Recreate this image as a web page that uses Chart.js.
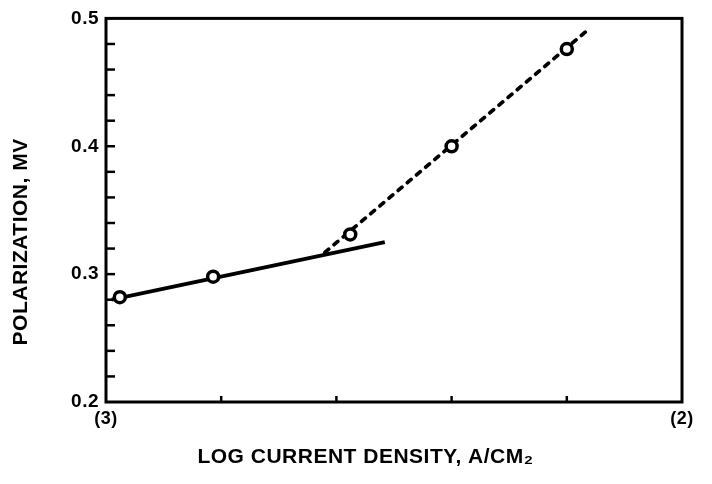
<!DOCTYPE html>
<html>
<head>
<meta charset="utf-8">
<script src="https://cdn.jsdelivr.net/npm/chart.js@4.4.1/dist/chart.umd.min.js"></script>
<style>
  html, body { margin: 0; padding: 0; background: #fff; }
  #wrap { width: 712px; height: 484px; }
</style>
</head>
<body>
<div id="wrap"><canvas id="c" width="712" height="484"></canvas></div>
<script>
// ---- data ----
const measuredX = [0.12, 0.93, 2.12, 3.00, 4.00];
const measuredY = [0.282, 0.298, 0.331, 0.400, 0.476];

const lowFitX = [0.05, 2.42];
const lowFitY = [0.280, 0.325];

const highFitX = [1.90, 4.17];
const highFitY = [0.317, 0.490];

const xTickLabels = { 0: '(3)', 5: '(2)' };
const yTickLabels = ['0.2', '0.3', '0.4', '0.5'];

const xTitle = 'LOG CURRENT DENSITY, A/CM\u2082';
const yTitle = 'POLARIZATION, MV';

const toPts = (xs, ys) => xs.map((v, i) => ({ x: v, y: ys[i] }));

const FONT = '"Liberation Sans", Arial, Helvetica, sans-serif';
const NB = '\u00A0';

const spacing = {
  id: 'spacing',
  beforeUpdate(chart) { chart.ctx.letterSpacing = '0.5px'; },
  beforeDraw(chart) { chart.ctx.letterSpacing = '0.5px'; }
};

const frameTicks = {
  id: 'frameTicks',
  afterDatasetsDraw(chart) {
    const { ctx, chartArea: a, scales: { x, y } } = chart;
    ctx.save();
    ctx.strokeStyle = '#000';
    ctx.lineWidth = 3;
    ctx.strokeRect(a.left, a.top, a.right - a.left, a.bottom - a.top);
    ctx.lineWidth = 2.5;
    y.ticks.forEach(t => {
      if (t.value <= y.min + 1e-9 || t.value >= y.max - 1e-9) return;
      const py = y.getPixelForValue(t.value);
      ctx.beginPath(); ctx.moveTo(a.left, py); ctx.lineTo(a.left + 9, py); ctx.stroke();
    });
    x.ticks.forEach(t => {
      if (t.value <= x.min || t.value >= x.max) return;
      const px = x.getPixelForValue(t.value);
      ctx.beginPath(); ctx.moveTo(px, a.bottom); ctx.lineTo(px, a.bottom - 6); ctx.stroke();
    });
    ctx.restore();
  }
};

new Chart(document.getElementById('c'), {
  type: 'scatter',
  data: {
    datasets: [
      {
        label: 'low',
        data: toPts(lowFitX, lowFitY),
        showLine: true,
        borderColor: '#000',
        borderWidth: 3.8,
        pointRadius: 0,
        order: 3
      },
      {
        label: 'high',
        data: toPts(highFitX, highFitY),
        showLine: true,
        borderColor: '#000',
        borderWidth: 3.8,
        borderDash: [5, 7],
        borderCapStyle: 'round',
        pointRadius: 0,
        order: 2
      },
      {
        label: 'measured',
        data: toPts(measuredX, measuredY),
        showLine: false,
        pointStyle: 'circle',
        pointRadius: 5.5,
        pointBorderWidth: 3.5,
        pointBorderColor: '#000',
        pointBackgroundColor: '#fff',
        order: 1
      }
    ]
  },
  options: {
    responsive: false,
    animation: false,
    devicePixelRatio: 1,
    layout: { padding: { top: 18, right: 30, bottom: 0, left: 0 } },
    plugins: { legend: { display: false }, tooltip: { enabled: false } },
    scales: {
      x: {
        type: 'linear',
        min: 0, max: 5,
        afterFit(s) { s.height = 82; },
        border: { display: false },
        grid: { display: false, drawTicks: false },
        ticks: {
          stepSize: 1,
          autoSkip: false,
          maxRotation: 0,
          padding: 6,
          color: '#000',
          font: { family: FONT, size: 18, weight: 'bold' },
          callback: v => (xTickLabels[Math.round(v)] !== undefined && Math.abs(v - Math.round(v)) < 1e-9) ? xTickLabels[Math.round(v)] : ''
        },
        title: {
          display: true,
          text: xTitle + NB.repeat(9),
          color: '#000',
          font: { family: FONT, size: 21, weight: 'bold' },
          padding: { top: 0, bottom: 14 }
        }
      },
      y: {
        type: 'linear',
        min: 0.2, max: 0.5,
        afterFit(s) { s.width = 106; },
        border: { display: false },
        grid: { display: false, drawTicks: false },
        ticks: {
          stepSize: 0.02,
          autoSkip: false,
          padding: 7,
          color: '#000',
          font: { family: FONT, size: 19, weight: 'bold' },
          callback: v => {
            const k = Math.round(v * 10);
            if (Math.abs(v * 10 - k) > 1e-6) return '';
            const s = (k / 10).toFixed(1);
            return yTickLabels.includes(s) ? s : '';
          }
        },
        title: {
          display: true,
          text: yTitle + NB.repeat(10),
          color: '#000',
          font: { family: FONT, size: 21, weight: 'bold' },
          padding: { top: 9, bottom: 0 }
        }
      }
    }
  },
  plugins: [spacing, frameTicks]
});
</script>
</body>
</html>
